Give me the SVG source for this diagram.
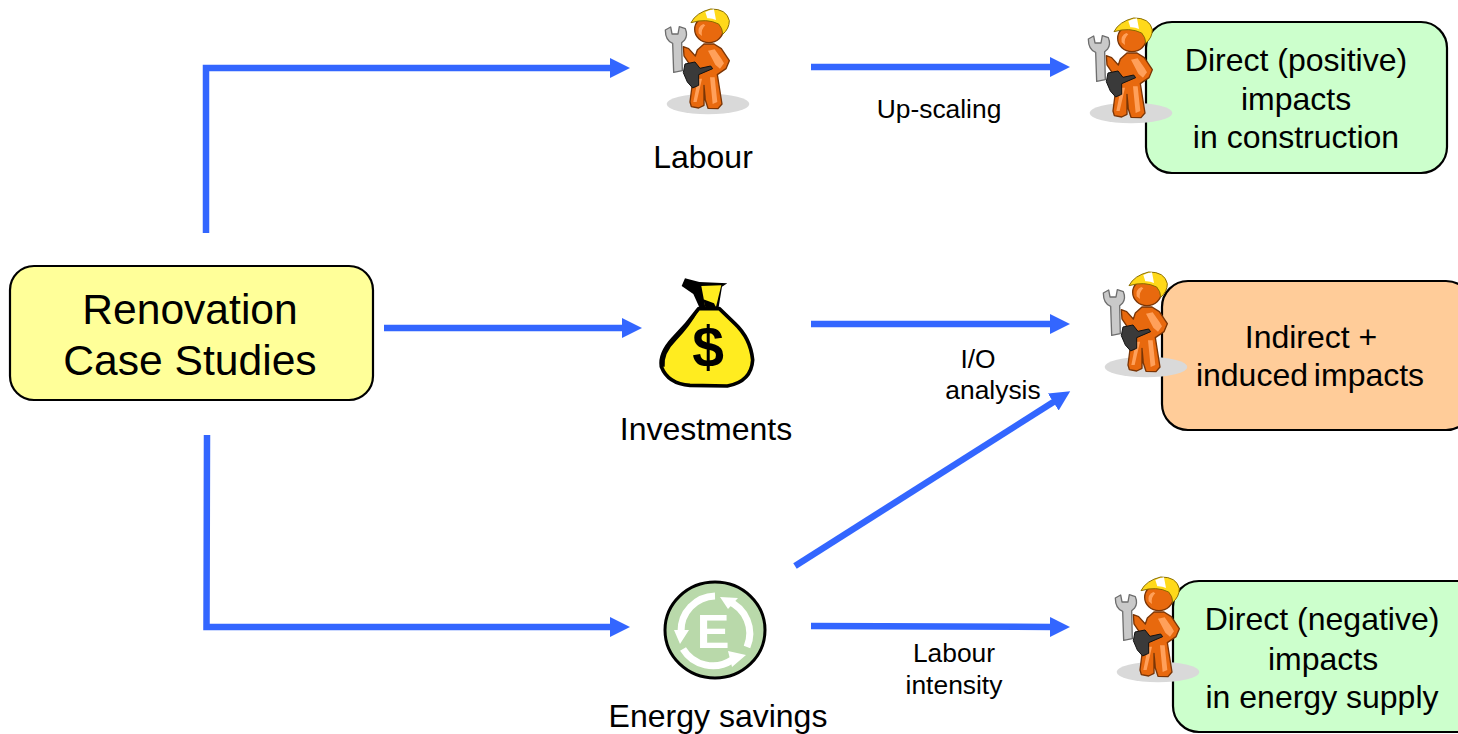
<svg xmlns="http://www.w3.org/2000/svg" width="1458" height="734" viewBox="0 0 1458 734">
<style>
text{font-family:"Liberation Sans",Arial,sans-serif;fill:#000;text-anchor:middle}
.t42{font-size:42.6px}.t32{font-size:32px}.t26{font-size:26.400px}
.box{stroke:#000;stroke-width:2.2}
.c{fill:none;stroke:#3366ff;stroke-width:6.5;stroke-linejoin:miter}
.or{fill:#e8690e;stroke:#7a3506;stroke-width:4;stroke-linejoin:round}
.hi{fill:#ffa05a;stroke:none}
</style>
<defs>
<marker id="a" markerUnits="userSpaceOnUse" markerWidth="22" markerHeight="22" refX="2" refY="10" orient="auto"><path d="M0,0L20,10L0,20Z" fill="#3366ff"/></marker>
<g id="worker" transform="translate(640 0) scale(.3333)">
<ellipse cx="204" cy="312" rx="124" ry="31" fill="#d9d9d9"/>
<path d="M76,90L92,81L96,102L114,102L118,80L136,86Q144,105 134,120L125,128L127,212L101,217L98,130Q76,122 76,90Z" fill="#c9c9c9" stroke="#6e6e6e" stroke-width="4" stroke-linejoin="round"/>
<path class="or" d="M130,140L146,146L166,168L172,150L192,132L222,132L244,146L268,182L258,206L232,224L246,312L234,326L204,325L196,300L192,256L192,316L176,324L154,320L150,306L160,228L148,192L132,168Z"/>
<path class="hi" d="M204,152L224,148L244,176L252,190L240,206L226,194ZM174,236L186,236L170,306L160,306ZM210,232L224,232L232,306L218,312Z"/>
<ellipse class="or" cx="207" cy="88" rx="43" ry="40"/>
<path class="hi" d="M176,100Q172,80 190,72L196,76Q182,88 186,108Z"/>
<path d="M153,68Q168,38 212,27Q260,26 268,62Q268,86 248,103Q248,85 236,72Q200,54 153,68Z" fill="#ffd91a" stroke="#8a6d00" stroke-width="3" stroke-linejoin="round"/>
<path d="M196,36Q208,30 222,28L228,60Q215,54 202,55Z" fill="#fff"/>
<path d="M135,192L165,186L180,205L212,198L218,206L176,224L176,256L158,264L142,246L130,218Z" fill="#3a3a3a" stroke="#111" stroke-width="3" stroke-linejoin="round"/>
</g>
</defs>
<g id="connectors">
<path class="c" d="M206,233V68H612" marker-end="url(#a)"/>
<path class="c" d="M384,328H624" marker-end="url(#a)"/>
<path class="c" d="M207,435L206.500,627H612" marker-end="url(#a)"/>
<path class="c" d="M811,67H1052" marker-end="url(#a)"/>
<path class="c" d="M811,324H1052" marker-end="url(#a)"/>
<path class="c" d="M795,566L1055,401" marker-end="url(#a)"/>
<path class="c" d="M811,626L1052,627" marker-end="url(#a)"/>
</g>
<g id="case-studies">
<rect class="box" x="10" y="266" width="363" height="134" rx="24" fill="#ffff99"/>
<text class="t42" x="190" y="324">Renovation</text>
<text class="t42" x="190" y="375">Case Studies</text>
</g>
<g id="labour"><use href="#worker"/><text class="t32" x="703" y="168">Labour</text></g>
<g id="investments">
<g transform="translate(640 270) scale(.3333)">
<path d="M125,48L135,25L178,36L262,40L246,50L236,112L180,116L160,72Z" fill="#000"/>
<path d="M184,48L244,46L228,110L196,112Z" fill="#ffec20"/>
<path d="M190,88L222,100L228,112L196,112Z" fill="#000"/>
<path d="M176,116Q140,165 100,205Q58,250 64,290Q84,342 150,346L262,348Q334,335 338,270Q332,205 284,160L238,116Z" fill="#ffec20" stroke="#000" stroke-width="11" stroke-linejoin="round"/>
<path d="M178,118Q150,170 108,212Q70,250 74,290L62,290Q56,250 98,204Q140,160 178,118Z" fill="#000"/>
</g>
<text x="708" y="367" font-size="57" font-weight="bold">$</text>
<text class="t32" x="706" y="440">Investments</text>
</g>
<g id="energy-savings">
<ellipse cx="715" cy="630" rx="50" ry="48" fill="#b9d9aa" stroke="#000" stroke-width="3"/>
<g fill="none" stroke="#fff" stroke-width="7"><path d="M715,596A35,35 0 0 0 681,632"/><path d="M728,601A35,35 0 0 1 747,647"/><path d="M683,649A35,35 0 0 0 732,660"/></g>
<path d="M674,630L689,630L680,644ZM720,597L738,598L728,609ZM728,651L746,655L732,667Z" fill="#fff"/>
<text x="713" y="648" font-size="49" font-weight="bold" style="fill:#fff">E</text>
<text class="t32" x="718" y="727">Energy savings</text>
</g>
<g id="direct-positive">
<rect class="box" x="1146" y="22" width="301" height="151" rx="26" fill="#ccffcc"/>
<use href="#worker" x="423" y="9"/>
<text class="t32" x="1296" y="71">Direct (positive)</text>
<text class="t32" x="1296" y="110">impacts</text>
<text class="t32" x="1296" y="148">in construction</text>
</g>
<g id="indirect-induced">
<rect class="box" x="1162" y="281" width="310" height="149" rx="26" fill="#ffcc99"/>
<use href="#worker" x="438" y="263"/>
<text class="t32" x="1311" y="348">Indirect +</text>
<text class="t32" x="1310" y="386" word-spacing="-3">induced impacts</text>
</g>
<g id="direct-negative">
<rect class="box" x="1173" y="581" width="310" height="151" rx="26" fill="#ccffcc"/>
<use href="#worker" x="450" y="568"/>
<text class="t32" x="1322" y="630">Direct (negative)</text>
<text class="t32" x="1323" y="670">impacts</text>
<text class="t32" x="1322" y="708">in energy supply</text>
</g>
<g id="labels">
<text class="t26" x="939" y="118">Up-scaling</text>
<text class="t26" x="978" y="368">I/O</text>
<text class="t26" x="993" y="399">analysis</text>
<text class="t26" x="954" y="662">Labour</text>
<text class="t26" x="954" y="694">intensity</text>
</g>
</svg>
